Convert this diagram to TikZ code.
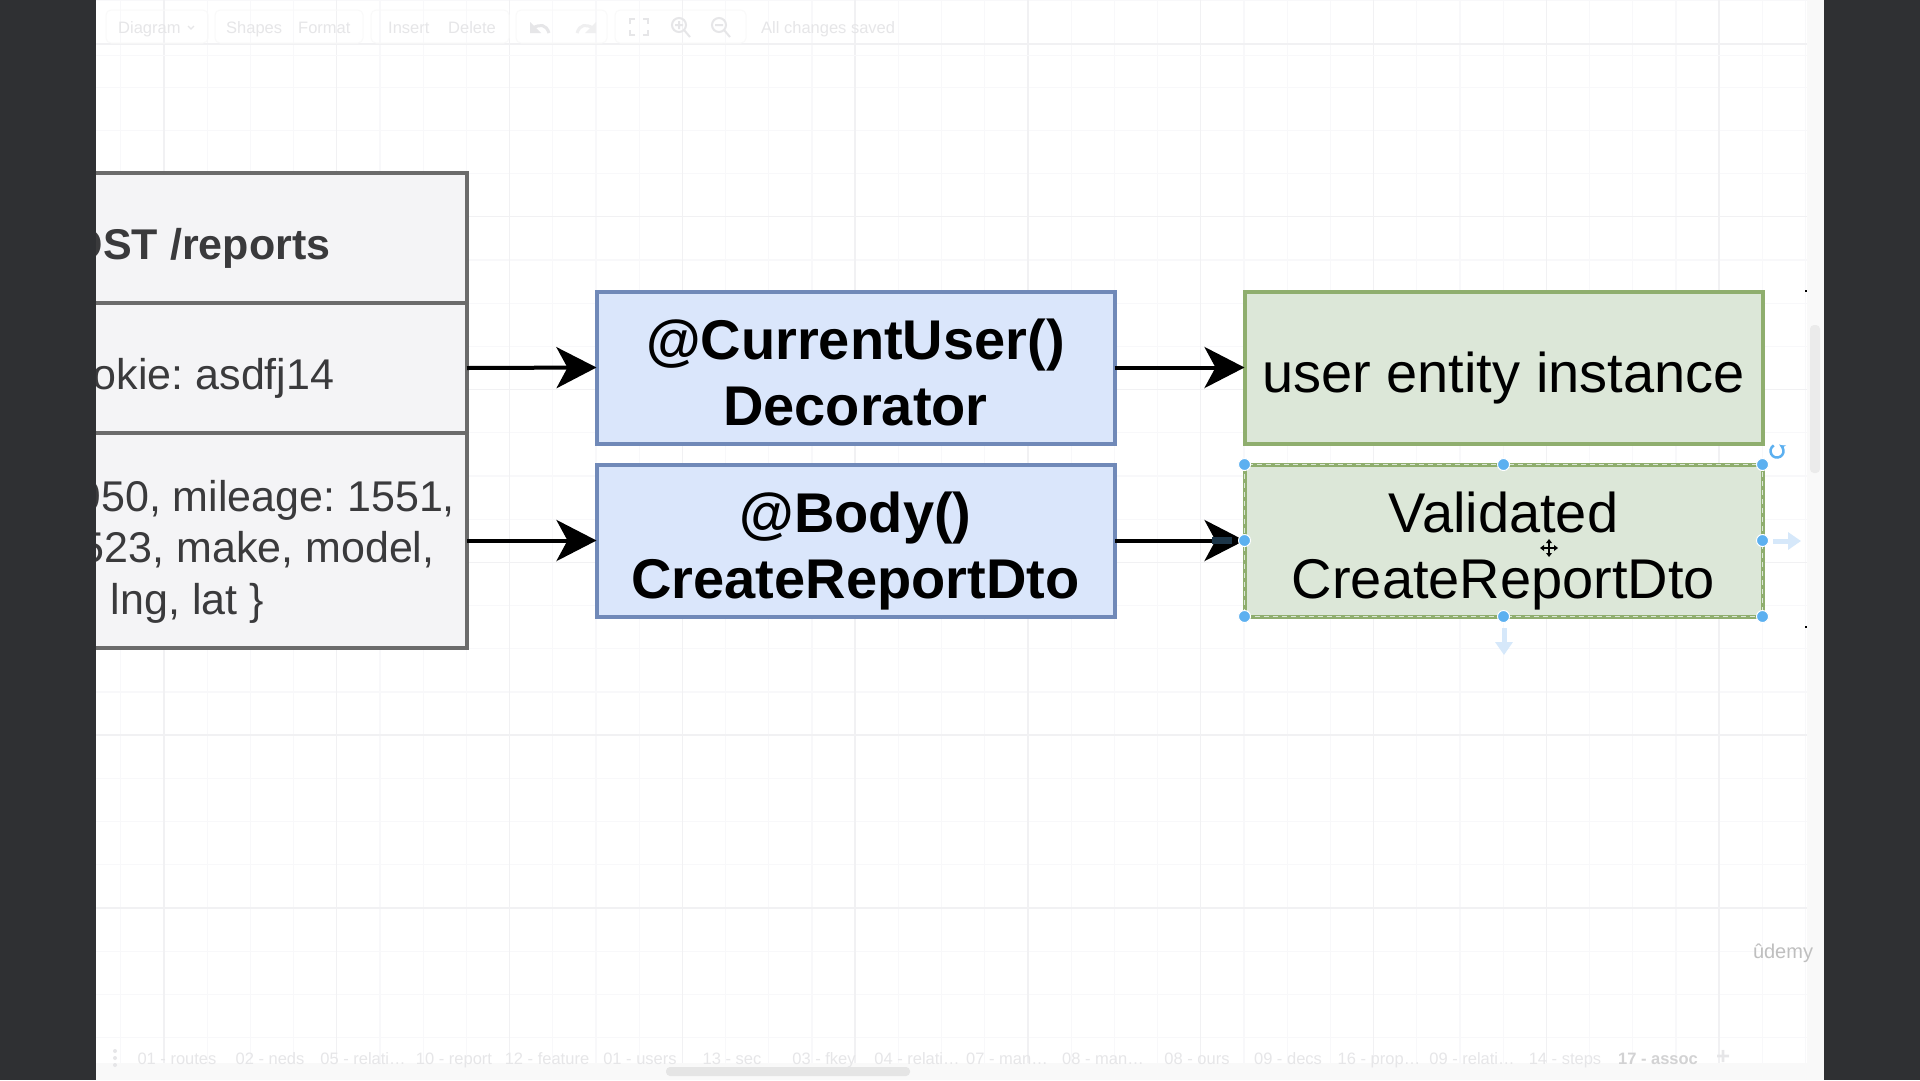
\documentclass[tikz,border=0pt]{standalone}
\usepackage{fontspec}
\setmainfont{Liberation Sans}
\usetikzlibrary{arrows.meta}
\definecolor{panelgray}{HTML}{2F3033}
\definecolor{gridminor}{HTML}{F8F8FA}
\definecolor{gridmajor}{HTML}{F1F1F3}
\definecolor{chromefill}{HTML}{F9F9F9}
\definecolor{chrometext}{HTML}{E6E6E8}
\definecolor{reqfill}{HTML}{F4F4F6}
\definecolor{reqline}{HTML}{6B6B6B}
\definecolor{reqtext}{HTML}{3A3A3C}
\definecolor{bluefill}{HTML}{DAE6FB}
\definecolor{blueline}{HTML}{7089B8}
\definecolor{greenfill}{HTML}{DCE7D8}
\definecolor{greenline}{HTML}{8FAE6E}
\definecolor{handleblue}{HTML}{5CB0F0}
\definecolor{hintblue}{HTML}{D6E8FA}
\newcommand{\firstline}{\rule{0pt}{62pt}}
\newcommand{\lastline}{\rule[-13pt]{0pt}{13pt}}
\tikzset{
  reqbox/.style={draw=reqline,fill=reqfill,line width=3.5pt,minimum width=407pt,outer sep=0pt},
  reqlabel/.style={text=reqtext,font=\fontsize{43}{52}\selectfont,anchor=base east,inner sep=0pt},
  midbox/.style={draw=blueline,fill=bluefill,line width=4pt,minimum width=518pt,minimum height=152pt,
    outer sep=0pt,align=center,inner sep=0pt,font=\bfseries\fontsize{56}{66}\selectfont},
  resultbox/.style={draw=greenline,fill=greenfill,line width=4pt,minimum width=518pt,minimum height=152pt,
    outer sep=0pt,align=center,inner sep=0pt,font=\fontsize{56}{66}\selectfont},
  flow/.style={line width=4pt,-{Stealth[length=40pt,width=41pt,inset=11pt]}},
  handle/.style={circle,fill=handleblue,draw=white,line width=1pt,minimum size=12pt,inner sep=0pt},
  hint/.style={line width=5pt,draw=hintblue,-{Stealth[length=13pt,width=17pt,inset=0pt]}},
  chromelabel/.style={text=chrometext,font=\fontsize{16.5}{20}\selectfont,inner sep=0pt},
  chromeicon/.style={draw=chrometext,line width=2pt},
  chromebox/.style={draw=chromefill,line width=1pt,rounded corners=5pt},
}
\begin{document}
\frenchspacing
\begin{tikzpicture}[x=1pt,y=-1pt]
  \useasboundingbox (0,0) rectangle (1920,1080);
  \fill[white] (0,0) rectangle (1920,1080);
  \fill[chromefill] (1807,0) rectangle (1824,1080);
  \fill[chromefill] (96,1063) rectangle (1824,1080);
  \foreach \gx in {120.7,163.9,...,1807} \draw[gridminor,line width=1.2pt] (\gx,0) -- (\gx,1063);
  \foreach \gy in {0.7,43.9,...,1063} \draw[gridminor,line width=1.2pt] (96,\gy) -- (1807,\gy);
  \foreach \gx in {163.9,336.7,...,1807} \draw[gridmajor,line width=1.5pt] (\gx,0) -- (\gx,1063);
  \foreach \gy in {43.9,216.7,...,1063} \draw[gridmajor,line width=1.5pt] (96,\gy) -- (1807,\gy);

  \draw[gridminor,line width=1pt] (96,55) -- (1807,55);
  \draw[chromebox] (106,10) rectangle (208,43);
  \draw[chromebox] (215,10) rectangle (363,43);
  \draw[chromebox] (371,10) rectangle (509,43);
  \draw[chromebox] (516,10) rectangle (607,43);
  \draw[chromebox] (615,10) rectangle (746,43);
  \node[chromelabel,anchor=base west] (menudiagram) at (118,33) {Diagram};
  \node[chromelabel,anchor=base west] (menushapes) at (226,33) {Shapes};
  \node[chromelabel,anchor=base west] (menuformat) at (298,33) {Format};
  \node[chromelabel,anchor=base west] (menuinsert) at (388,33) {Insert};
  \node[chromelabel,anchor=base west] (menudelete) at (448,33) {Delete};
  \node[chromelabel,anchor=base west] (menusaved) at (761,33) {All changes saved};
  \draw[chromeicon,line width=1.2pt] (188,26) -- (191,29) -- (194,26);
  \draw[chromeicon,line width=3pt] (549,33) .. controls (546,24) and (540,24) .. (533,28);
  \fill[chrometext] (530,22) -- (530,33) -- (541,33) -- cycle;
  \draw[chromefill!50!chrometext,line width=3pt] (577,33) .. controls (580,24) and (586,24) .. (593,28);
  \fill[chromefill!50!chrometext] (596,22) -- (596,33) -- (585,33) -- cycle;
  \draw[chromeicon] (630,24) -- (630,19) -- (635,19) (643,19) -- (648,19) -- (648,24)
    (648,30) -- (648,35) -- (643,35) (635,35) -- (630,35) -- (630,30);
  \draw[chromeicon] (679,25) circle (7pt) (684,30) -- (690,37) (675,25) -- (683,25) (679,21) -- (679,29);
  \draw[chromeicon] (719,25) circle (7pt) (724,30) -- (730,37) (715,25) -- (723,25);

  \fill[chrometext] (115,1051) circle (2pt) (115,1058) circle (2pt) (115,1065) circle (2pt);
  \foreach \tabx/\tabname [count=\tabi] in {177/01 - routes,270/02 - neds,363/05 - relati\ldots,454/10 - report,547/12 - feature,640/01 - users,732/13 - sec,824/03 - fkey,917/04 - relati\ldots,1007/07 - man\ldots,1103/08 - man\ldots,1197/08 - ours,1288/09 - decs,1379/16 - prop\ldots,1472/09 - relati\ldots,1565/14 - steps}
    \node[chromelabel,anchor=base] (tab\tabi) at (\tabx,1064) {\tabname};
  \node[chromelabel,anchor=base,font=\bfseries\fontsize{16.5}{20}\selectfont,text=chrometext!80!gray] (tabassoc) at (1658,1064) {17 - assoc};
  \node[chromelabel,font=\bfseries\fontsize{24}{24}\selectfont] (tabadd) at (1723,1057) {+};
  \fill[black!10,rounded corners=4pt] (666,1067) rectangle (910,1076);
  \fill[black!8,rounded corners=4pt] (1810,325) rectangle (1820,473);
  \node[text=black!25,font=\fontsize{20}{20}\selectfont,inner sep=0pt] (udemy) at (1783,953) {ûdemy};

  \node[reqbox,minimum height=130pt] (reqtitle) at (263.5,238) {};
  \node[reqbox,minimum height=130pt] (reqcookie) at (263.5,368) {};
  \node[reqbox,minimum height=215pt] (reqbody) at (263.5,540.5) {};
  \node[reqlabel,font=\bfseries\fontsize{43}{52}\selectfont] (titletext) at (330.5,259) {OST /reports};
  \node[reqlabel] (cookietext) at (334.5,389) {okie: asdfj14};
  \node[reqlabel] (bodytexta) at (455.2,511) {950, mileage: 1551,};
  \node[reqlabel] (bodytextb) at (434.7,562.5) {523, make, model,};
  \node[reqlabel] (bodytextc) at (264,614) {lng, lat \}};

  \node[midbox] (currentuser) at (855.5,367.5) {\firstline@CurrentUser()\\Decorator\lastline};
  \node[midbox] (bodydto) at (855.5,540.5) {\firstline@Body()\\CreateReportDto\lastline};
  \node[resultbox] (userentity) at (1503.5,367.5) {\firstline user entity instance\lastline};
  \node[resultbox] (validated) at (1503.5,540.5) {\firstline Validated\\CreateReportDto\lastline};

  \draw[flow] (reqcookie.east) -- (currentuser.west);
  \draw[flow] (reqbody.east) -- (bodydto.west);
  \draw[flow] (currentuser.east) -- (userentity.west);
  \draw[flow] (bodydto.east) -- (validated.west);
  \draw[line width=7pt,draw=black!70!handleblue] (1212,540.5) -- (1232,540.5);

  \draw[greenfill,line width=1.5pt,dash pattern=on 5pt off 4pt] (validated.north west) rectangle (validated.south east);
  \foreach \spot [count=\hi] in {north west,north,north east,west,east,south west,south,south east}
    \node[handle] (handle\hi) at (validated.\spot) {};
  \coordinate (hintright) at (1801,541);
  \coordinate (hintdown) at (1504,655);
  \draw[hint] (1773,541) -- (hintright);
  \draw[hint] (1504,628) -- (hintdown);
  \draw[handleblue,line width=2.5pt,-{Stealth[length=5pt,width=6pt]}] (1773.75,445.4) arc (120:420:6.5pt);

  \draw[black,line width=1.2pt] (1549,541) -- (1549,555) (1542,548) -- (1556,548);
  \fill[black] (1549,539) -- (1546,543) -- (1552,543) -- cycle (1549,557) -- (1546,553) -- (1552,553) -- cycle
    (1540,548) -- (1544,545) -- (1544,551) -- cycle (1558,548) -- (1554,545) -- (1554,551) -- cycle;
  \fill[black] (1805,290) rectangle (1807,292);
  \fill[black] (1805,626) rectangle (1807,628);

  \fill[panelgray] (0,0) rectangle (96,1080);
  \fill[panelgray] (1824,0) rectangle (1920,1080);
\end{tikzpicture}
\end{document}
